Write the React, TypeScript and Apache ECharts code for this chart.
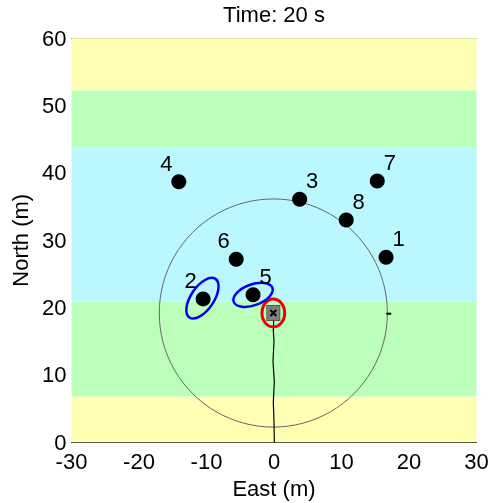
import React, { useEffect, useRef } from "react";
import * as echarts from "echarts";

const xTicks = [-30, -20, -10, 0, 10, 20, 30];
const yTicks = [0, 10, 20, 30, 40, 50, 60];

// lane bands [from, to, color]
const bandFrom = [0, 6.8, 20.9, 43.8, 52.3];
const bandTo = [6.8, 20.9, 43.8, 52.3, 60];
const bandColor = ["#FFFFB3", "#BBFFBB", "#BBF7FF", "#BBFFBB", "#FFFFB3"];

// landmarks
const pointIds = ["1", "2", "3", "4", "5", "6", "7", "8"];
const pointEast = [16.6, -10.5, 3.8, -14.1, -3.1, -5.6, 15.3, 10.7];
const pointNorth = [27.5, 21.3, 36.1, 38.7, 21.9, 27.2, 38.8, 33.0];
const labelSide = [1, -1, 1, -1, 1, -1, 1, 1];

// estimated landmark covariance ellipses [east, north, semiA, semiB, angleDeg]
const ellEast = [-10.6, -3.1];
const ellNorth = [21.4, 21.9];
const ellA = [3.45, 3.05];
const ellB = [1.7, 1.55];
const ellAngle = [56, 20];

// vehicle
const vehEast = -0.1;
const vehNorth = 19.2;
const vehEllA = 1.68;
const vehEllB = 2.08;
const sensorRange = 16.9;
const headingEast = 17.0;
const headingNorth = 19.1;

// trajectory
const trajEast = [0.05, 0.0, -0.1, 0.05, -0.15, 0.0, -0.1, -0.05, -0.1];
const trajNorth = [0, 3, 6, 9, 12, 15, 16.5, 18, 19.2];

export default function App() {
  const ref = useRef<HTMLDivElement>(null);
  useEffect(() => {
    if (!ref.current) return;
    const chart = echarts.init(ref.current, null, { renderer: "svg" });
    const font = "'Liberation Sans', Arial, sans-serif";
    const ellipseRender = (color: string, lw: number) => (params: any, api: any) => {
      const c = api.coord([api.value(0), api.value(1)]);
      const rx = api.size([api.value(2), 0])[0];
      const ry = api.size([0, api.value(3)])[1];
      return {
        type: "ellipse",
        x: c[0],
        y: c[1],
        rotation: (api.value(4) * Math.PI) / 180,
        shape: { cx: 0, cy: 0, rx, ry },
        style: { fill: "none", stroke: color, lineWidth: lw },
      };
    };
    chart.setOption({
      animation: false,
      grid: {
        left: 71.5,
        right: 12.5,
        top: 38.3,
        bottom: 60.7,
        containLabel: false,
        outerBoundsMode: "none",
      },
      graphic: [
        {
          type: "text",
          x: 274,
          y: 14,
          style: {
            text: "Time: 20 s",
            fontSize: 22,
            fontFamily: font,
            fill: "#000",
            align: "center",
            verticalAlign: "middle",
          },
        },
      ],
      xAxis: [
        {
          type: "value",
          min: xTicks[0],
          max: xTicks[xTicks.length - 1],
          interval: 10,
          axisLine: { show: true, lineStyle: { color: "#222", width: 1 } },
          axisTick: { show: false },
          splitLine: { show: false },
          axisLabel: { fontSize: 22, color: "#000", fontFamily: font, margin: 8 },
          name: "East (m)",
          nameLocation: "middle",
          nameGap: 33,
          nameTextStyle: { fontSize: 22, color: "#000", fontFamily: font },
        },
        {
          type: "value",
          position: "top",
          min: -30,
          max: 30,
          axisLine: { show: true, lineStyle: { color: "#888", width: 1 } },
          axisTick: { show: false },
          axisLabel: { show: false },
          splitLine: { show: false },
        },
      ],
      yAxis: {
        type: "value",
        min: yTicks[0],
        max: yTicks[yTicks.length - 1],
        interval: 10,
        axisLine: { show: false },
        axisTick: { show: false },
        splitLine: { show: false },
        axisLabel: { fontSize: 22, color: "#000", fontFamily: font, margin: 5 },
        name: "North (m)",
        nameLocation: "middle",
        nameGap: 38,
        nameTextStyle: { fontSize: 22, color: "#000", fontFamily: font },
      },
      series: [
        {
          type: "line",
          data: [],
          silent: true,
          markArea: {
            silent: true,
            data: bandFrom.map((f, i) => [
              { yAxis: f, itemStyle: { color: bandColor[i] } },
              { yAxis: bandTo[i] },
            ]),
          },
          z: 0,
        },
        {
          type: "custom",
          z: 2,
          silent: true,
          data: [[vehEast, vehNorth, sensorRange]],
          renderItem: (params: any, api: any) => {
            const c = api.coord([api.value(0), api.value(1)]);
            const r = api.size([api.value(2), 0])[0];
            return {
              type: "circle",
              shape: { cx: c[0], cy: c[1], r },
              style: { fill: "none", stroke: "#666", lineWidth: 1 },
            };
          },
        },
        {
          type: "scatter",
          z: 3,
          symbol: "rect",
          symbolSize: [5, 2],
          itemStyle: { color: "#000", opacity: 1 },
          data: [[headingEast, headingNorth]],
        },
        {
          type: "line",
          z: 3,
          symbol: "none",
          lineStyle: { color: "#000", width: 1.2 },
          data: trajEast.map((e, i) => [e, trajNorth[i]]),
        },
        {
          type: "scatter",
          z: 4,
          symbol: "rect",
          symbolSize: [13, 15],
          itemStyle: { color: "#808080", borderColor: "#555", borderWidth: 1, opacity: 1 },
          data: [[vehEast, vehNorth]],
        },
        {
          type: "scatter",
          z: 5,
          symbol: "path://M0,0L10,10M10,0L0,10",
          symbolSize: 6,
          itemStyle: { color: "none", borderColor: "#000", borderWidth: 2, opacity: 1 },
          data: [[vehEast, vehNorth]],
        },
        {
          type: "custom",
          z: 6,
          silent: true,
          data: [[vehEast, vehNorth, vehEllA, vehEllB, 0]],
          renderItem: ellipseRender("#EE0000", 3),
        },
        {
          type: "custom",
          z: 6,
          silent: true,
          data: ellEast.map((e, i) => [e, ellNorth[i], ellA[i], ellB[i], ellAngle[i]]),
          renderItem: ellipseRender("#0000EE", 2.5),
        },
        {
          type: "scatter",
          z: 7,
          symbolSize: 15,
          itemStyle: { color: "#000", opacity: 1 },
          label: {
            show: true,
            position: "inside",
            formatter: (p: any) => p.name,
            fontSize: 22,
            fontFamily: font,
            color: "#000",
          },
          data: pointIds.map((id, i) => ({
            name: id,
            value: [pointEast[i], pointNorth[i]],
            label: { offset: [labelSide[i] * 12.5, -18.5] },
          })),
        },
      ],
    });
    return () => chart.dispose();
  }, []);
  return (
    <div
      ref={ref}
      style={{ position: "fixed", left: 0, top: 0, width: 489, height: 503 }}
    />
  );
}
